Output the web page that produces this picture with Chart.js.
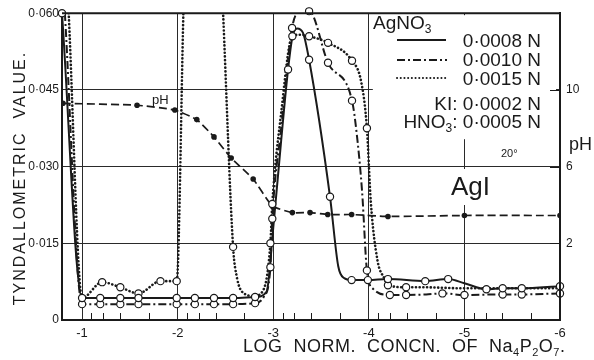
<!DOCTYPE html>
<html>
<head>
<meta charset="utf-8">
<script src="https://cdn.jsdelivr.net/npm/chart.js@4.4.1/dist/chart.umd.min.js"></script>
<style>
  html, body { margin: 0; padding: 0; background: #fff; }
  #wrap { width: 594px; height: 360px; }
</style>
</head>
<body>
<div id="wrap"><canvas id="chart" width="594" height="360"></canvas></div>
<script>
// ---- axes ----
const xTicks = [-1, -2, -3, -4, -5, -6];
const xTickLabels = ['-1', '-2', '-3', '-4', '-5', '-6'];
const minorOffsets = [0.097, 0.222, 0.398, 0.699];   // minor ticks inside each decade
const yTicks = [0, 0.015, 0.030, 0.045, 0.060];
const yTickLabels = ['0', '0·015', '0·030', '0·045', '0·060'];
const phTicks = [2, 6, 10];

// ---- AgNO3 0.0008 N (solid) ----
const solidX = [-0.79, -1.0, -1.19, -1.4, -1.59, -1.99, -2.18, -2.38, -2.58, -2.81, -2.93, -3.0, -3.08, -3.155, -3.2, -3.25, -3.31, -3.375, -3.594, -3.68, -3.74, -3.82, -3.99, -4.2, -4.59, -4.83, -5.0, -5.23, -5.4, -5.6, -6.0];
const solidY = [0.060, 0.0043, 0.0043, 0.0043, 0.0043, 0.0043, 0.0043, 0.0043, 0.0043, 0.0045, 0.0055, 0.018, 0.0345, 0.049, 0.0553, 0.057, 0.0562, 0.0509, 0.0241, 0.0105, 0.0082, 0.0078, 0.0078, 0.0080, 0.0076, 0.0080, 0.0072, 0.0060, 0.0062, 0.0062, 0.0066];
const solidMarkX = [-0.79, -1.0, -1.19, -1.4, -1.59, -1.99, -2.18, -2.38, -2.58, -2.81, -3.155, -3.375, -3.594, -3.82, -3.99, -4.2, -4.59, -4.83, -5.23, -5.4, -5.6, -6.0];
const solidMarkY = [0.060, 0.0043, 0.0043, 0.0043, 0.0043, 0.0043, 0.0043, 0.0043, 0.0043, 0.0045, 0.049, 0.0509, 0.0241, 0.0078, 0.0078, 0.0080, 0.0076, 0.0080, 0.0060, 0.0062, 0.0062, 0.0066];

// ---- AgNO3 0.0010 N (dash-dot) ----
const dashX = [-0.82, -1.0, -1.19, -1.4, -1.59, -1.99, -2.18, -2.38, -2.58, -2.81, -2.9, -2.97, -2.99, -3.08, -3.197, -3.28, -3.375, -3.573, -3.824, -3.87, -3.93, -3.98, -4.05, -4.22, -4.39, -4.6, -4.77, -5.0, -5.4, -5.6, -6.0];
const dashY = [0.060, 0.0031, 0.0031, 0.0031, 0.0031, 0.0031, 0.0031, 0.0031, 0.0031, 0.0033, 0.0045, 0.0103, 0.0198, 0.037, 0.0571, 0.0603, 0.0604, 0.0503, 0.0429, 0.037, 0.025, 0.0097, 0.0060, 0.0049, 0.0049, 0.0050, 0.0052, 0.0049, 0.0050, 0.0050, 0.0052];
const dashMarkX = [-1.0, -1.19, -1.4, -1.59, -1.99, -2.18, -2.38, -2.58, -2.81, -2.97, -2.99, -3.197, -3.375, -3.573, -3.824, -3.98, -4.22, -4.39, -4.77, -5.0, -5.4, -5.6, -6.0];
const dashMarkY = [0.0031, 0.0031, 0.0031, 0.0031, 0.0031, 0.0031, 0.0031, 0.0031, 0.0033, 0.0103, 0.0198, 0.0571, 0.0604, 0.0503, 0.0429, 0.0097, 0.0049, 0.0049, 0.0052, 0.0049, 0.0050, 0.0050, 0.0052];

// ---- AgNO3 0.0015 N (dotted), runs off the top between -2 and -2.5 ----
const dotX = [-0.86, -1.0, -1.21, -1.40, -1.59, -1.82, -1.99, -2.06, -2.27, -2.475, -2.58, -2.62, -2.68, -2.8, -2.9, -2.97, -2.99, -3.08, -3.2, -3.28, -3.375, -3.573, -3.824, -3.92, -3.98, -4.02, -4.09, -4.16, -4.20, -4.39, -4.57, -5.0, -5.5, -6.0];
const dotY = [0.060, 0.0043, 0.0074, 0.0064, 0.0052, 0.0076, 0.0076, 0.0602, null, 0.0602, 0.0143, 0.0083, 0.0054, 0.0047, 0.0060, 0.015, 0.0227, 0.040, 0.0555, 0.0558, 0.0555, 0.0542, 0.0507, 0.0466, 0.0375, 0.0233, 0.0117, 0.0082, 0.0068, 0.0064, 0.0064, 0.0062, 0.0062, 0.0062];
const dotMarkX = [-1.21, -1.40, -1.59, -1.82, -1.99, -2.58, -2.97, -2.99, -3.2, -3.375, -3.573, -3.824, -3.98, -4.20, -4.39];
const dotMarkY = [0.0074, 0.0064, 0.0052, 0.0076, 0.0076, 0.0143, 0.015, 0.0227, 0.0555, 0.0555, 0.0542, 0.0507, 0.0375, 0.0068, 0.0064];

// ---- pH (right axis) ----
const phX = [-0.80, -1.575, -1.97, -2.20, -2.38, -2.56, -2.79, -2.99, -3.20, -3.385, -3.57, -3.82, -4.20, -5.0, -6.0];
const phY = [9.3, 9.2, 8.95, 8.45, 7.55, 6.45, 5.35, 3.95, 3.6, 3.6, 3.5, 3.5, 3.4, 3.45, 3.45];

const INK = '#1a1a1a';
const FONT = "'Liberation Sans', Arial, sans-serif";
const DASHDOT = [8, 3, 2, 3];
const DOTS = [0.1, 3.6];
const PHDASH = [8, 4];

const pts = (xs, ys) => xs.map((x, i) => ({ x: x, y: ys[i] }));

function curve(xs, ys, extra) {
    return Object.assign({
        data: pts(xs, ys),
        borderColor: INK,
        borderWidth: 2,
        pointRadius: 0,
        cubicInterpolationMode: 'monotone',
        spanGaps: false,
        order: 2
    }, extra);
}

function marks(xs, ys) {
    return {
        data: pts(xs, ys),
        showLine: false,
        pointRadius: 3.6,
        pointBorderWidth: 1.2,
        pointBorderColor: INK,
        pointBackgroundColor: '#fff',
        clip: 6,
        order: 0
    };
}

// text with subscripts: parts = [[text, isSub], ...]
function subText(ctx, parts, x, y, size, align) {
    const big = size + 'px ' + FONT;
    const small = Math.round(size * 0.62) + 'px ' + FONT;
    let w = 0;
    parts.forEach(p => { ctx.font = p[1] ? small : big; w += ctx.measureText(p[0]).width; });
    let cx = align === 'right' ? x - w : x;
    ctx.textAlign = 'left';
    parts.forEach(p => {
        ctx.font = p[1] ? small : big;
        ctx.fillText(p[0], cx, p[1] ? y + size * 0.22 : y);
        cx += ctx.measureText(p[0]).width;
    });
}

function sample(ctx, x0, x1, y, dash, width, cap) {
    ctx.save();
    ctx.strokeStyle = INK;
    ctx.lineWidth = width;
    ctx.lineCap = cap || 'butt';
    ctx.setLineDash(dash);
    ctx.beginPath();
    ctx.moveTo(x0, y);
    ctx.lineTo(x1, y);
    ctx.stroke();
    ctx.restore();
}

const decor = {
    id: 'decor',
    beforeDatasetsDraw(chart) {
        const ctx = chart.ctx;
        const xs = chart.scales.x;
        const a = chart.chartArea;
        ctx.save();
        ctx.fillStyle = '#fff';
        // the legend block and the "AgI" label break the grid
        const left = xs.getPixelForValue(-4) + 4;
        ctx.fillRect(left, a.top + 2, a.right - 4 - left, 124);
        ctx.fillRect(446, 169, 50, 36);
        ctx.restore();
    },
    afterDraw(chart) {
        const ctx = chart.ctx;
        const a = chart.chartArea;
        const xs = chart.scales.x;
        const yr = chart.scales.y2;
        ctx.save();
        ctx.strokeStyle = INK;
        ctx.fillStyle = INK;

        // top and right frame
        ctx.lineWidth = 2;
        ctx.beginPath();
        ctx.moveTo(a.left, a.top);
        ctx.lineTo(a.right, a.top);
        ctx.lineTo(a.right, a.bottom);
        ctx.stroke();

        // inward minor ticks on the concentration axis
        ctx.lineWidth = 1;
        ctx.beginPath();
        xTicks.slice(0, 5).forEach(d => {
            minorOffsets.forEach(o => {
                const px = Math.round(xs.getPixelForValue(d - o)) + 0.5;
                ctx.moveTo(px, a.bottom);
                ctx.lineTo(px, a.bottom - 7);
            });
        });
        // inward pH ticks
        phTicks.forEach(v => {
            const py = Math.round(yr.getPixelForValue(v)) + 0.5;
            ctx.moveTo(a.right, py);
            ctx.lineTo(a.right - 10, py);
        });
        ctx.stroke();

        // legend
        ctx.textBaseline = 'alphabetic';
        subText(ctx, [['AgNO', 0], ['3', 1]], 373, 29, 19, 'left');
        sample(ctx, 397, 446, 40, [], 2);
        sample(ctx, 397, 447, 60, DASHDOT, 2);
        sample(ctx, 397, 447, 78, DOTS, 2, 'round');
        ctx.font = '19px ' + FONT;
        ctx.textAlign = 'right';
        ctx.fillText('0·0008 N', 541, 47);
        ctx.fillText('0·0010 N', 541, 66);
        ctx.fillText('0·0015 N', 541, 85);
        ctx.fillText('KI: 0·0002 N', 541, 110);
        subText(ctx, [['HNO', 0], ['3', 1], [': 0·0005 N', 0]], 541, 128, 19, 'right');

        ctx.font = '11px ' + FONT;
        ctx.textAlign = 'left';
        ctx.fillText('20°', 501, 157);

        ctx.font = '26px ' + FONT;
        ctx.fillText('AgI', 451, 195);

        ctx.font = '13px ' + FONT;
        ctx.fillText('pH', 152, 104);

        ctx.font = '18px ' + FONT;
        ctx.fillText('pH', 569, 150);

        // axis titles
        ctx.save();
        ctx.translate(25, 178);
        ctx.rotate(-Math.PI / 2);
        ctx.font = '16px ' + FONT;
        ctx.letterSpacing = '2px';
        ctx.textAlign = 'center';
        ctx.fillText('TYNDALLOMETRIC  VALUE.', 0, 0);
        ctx.restore();

        ctx.letterSpacing = '0.5px';
        subText(ctx, [['LOG  NORM.  CONCN.  OF  Na', 0], ['4', 1], ['P', 0], ['2', 1], ['O', 0], ['7', 1], ['.', 0]], 243, 352, 18, 'left');
        ctx.restore();
    }
};

new Chart(document.getElementById('chart'), {
    type: 'line',
    data: {
        datasets: [
            marks(solidMarkX, solidMarkY),
            marks(dashMarkX, dashMarkY),
            marks(dotMarkX, dotMarkY),
            curve(solidX, solidY),
            curve(dashX, dashY, { borderDash: DASHDOT }),
            curve(dotX, dotY, { borderDash: DOTS, borderWidth: 2.6, borderCapStyle: 'round' }),
            curve(phX, phY, {
                yAxisID: 'y2',
                borderDash: PHDASH,
                borderWidth: 1.7,
                pointRadius: 2.8,
                pointBorderWidth: 0,
                pointBackgroundColor: INK,
                cubicInterpolationMode: 'default',
                tension: 0.15,
                order: 1
            })
        ]
    },
    options: {
        responsive: false,
        animation: false,
        devicePixelRatio: 1,
        layout: { padding: { top: 11, left: 0, right: 0, bottom: 0 } },
        plugins: { legend: { display: false }, tooltip: { enabled: false } },
        scales: {
            x: {
                type: 'linear',
                reverse: true,
                min: -6,
                max: -0.79,
                afterBuildTicks: s => { s.ticks = xTicks.map(v => ({ value: v })); },
                afterFit: s => { s.height = 40; },
                grid: { color: '#2a2a2a', lineWidth: 1, drawTicks: false },
                border: { color: INK, width: 2 },
                ticks: {
                    color: INK,
                    padding: 6,
                    maxRotation: 0,
                    font: { family: FONT, size: 13 },
                    callback: (v, i) => xTickLabels[i]
                }
            },
            y: {
                min: 0,
                max: 0.06,
                afterBuildTicks: s => { s.ticks = yTicks.map(v => ({ value: v })); },
                afterFit: s => { s.width = 62; },
                grid: { color: '#2a2a2a', lineWidth: 1, drawTicks: false },
                border: { color: INK, width: 2 },
                ticks: {
                    color: INK,
                    padding: 3,
                    font: { family: FONT, size: 12 },
                    callback: (v, i) => yTickLabels[i]
                }
            },
            y2: {
                position: 'right',
                min: -2,
                max: 14,
                afterBuildTicks: s => { s.ticks = phTicks.map(v => ({ value: v })); },
                afterFit: s => { s.width = 34; },
                grid: { drawOnChartArea: false, drawTicks: false },
                border: { color: INK, width: 2 },
                ticks: {
                    color: INK,
                    padding: 6,
                    font: { family: FONT, size: 12 }
                }
            }
        }
    },
    plugins: [decor]
});
</script>
</body>
</html>
